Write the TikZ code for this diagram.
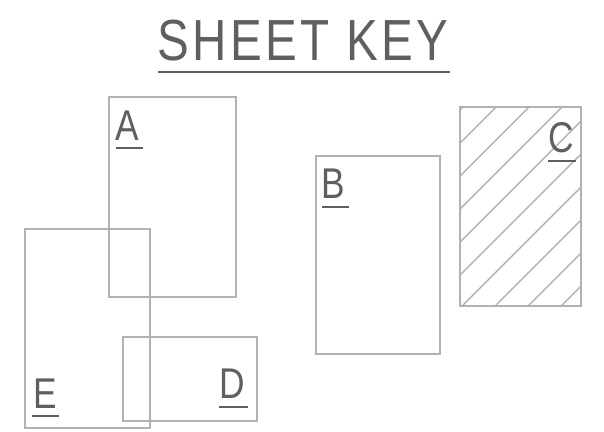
\documentclass[tikz,border=0pt]{standalone}
\usepackage{fontspec}
\setmainfont{Liberation Sans}[FakeStretch=0.82]
\definecolor{boxgray}{HTML}{B2B2B2}
\definecolor{txtgray}{HTML}{5F5F5F}
\begin{document}
\begin{tikzpicture}[x=1pt,y=-1pt,
  sheet/.style={draw=boxgray,line width=2pt},
  hatch/.style={draw=boxgray,line width=1.4pt},
  lbl/.style={text=txtgray,font=\fontsize{43}{43}\selectfont,inner sep=0pt,anchor=base west},
  uline/.style={draw=txtgray,line width=2pt}]
\useasboundingbox (0,0) rectangle (604,431);
% title
\node[text=txtgray,font=\fontsize{58}{58}\selectfont\addfontfeatures{LetterSpace=6},inner sep=0pt,anchor=base] (title) at (303,60) {SHEET KEY};
\draw[uline] (158,72) -- (450,72);
% hatched sheet C
\begin{scope}
\clip (460,107) rectangle (581,306);
\foreach \c in {570,603,...,900} {
  \draw[hatch] (\c-320,320) -- (\c-90,90);
}
\end{scope}
% rectangles
\draw[sheet] (109,97) rectangle (236,297);
\draw[sheet] (316,156) rectangle (440,354);
\draw[sheet] (460,107) rectangle (581,306);
\draw[sheet] (123,337) rectangle (257,421);
\draw[sheet] (25,229) rectangle (150,428);
% labels
\node[lbl] (la) at (115,140) {A};
\draw[uline] (116,148) -- (143,148);
\node[lbl] (lb) at (321,198) {B};
\draw[uline] (322,207) -- (349,207);
\node[lbl] (lc) at (548,152) {C};
\draw[uline] (548,161) -- (576,161);
\node[lbl] (ld) at (219,398) {D};
\draw[uline] (219,407) -- (248,407);
\node[lbl] (le) at (33,408) {E};
\draw[uline] (32,416) -- (59,416);
\end{tikzpicture}
\end{document}
